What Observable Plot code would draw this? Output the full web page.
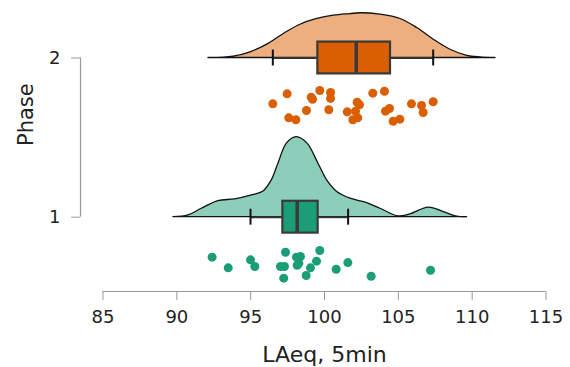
<!DOCTYPE html>
<html>
<head>
<meta charset="utf-8">
<script src="https://cdn.jsdelivr.net/npm/d3@7"></script>
<script src="https://cdn.jsdelivr.net/npm/@observablehq/plot@0.6"></script>
<style>
  html, body { margin: 0; padding: 0; background: #fff; }
  #chart svg { display: block; font-family: "DejaVu Sans", sans-serif; }
</style>
</head>
<body>
<div id="chart"></div>
<script>
// ---- data ----
const phases = [1, 2];
const phaseColors = ["#1b9e77", "#d95f02"];
const densityColors = ["#8dcebb", "#ecaf80"];

const xTicks = [85, 90, 95, 100, 105, 110, 115];
const yTicks = [1, 2];
const xLabel = "LAeq, 5min";
const yLabel = "Phase";

// raw observations (LAeq) and their vertical jitter (offset below the phase line)
const phase1Values = [92.39, 93.48, 94.99, 95.28, 97.36, 97.02, 97.29, 97.24, 98.10, 98.37,
  98.15, 98.26, 99.68, 99.46, 99.05, 98.76, 100.79, 101.58, 103.16, 107.18];
const phase1Jitter = [-0.251, -0.318, -0.268, -0.310, -0.220, -0.310, -0.310, -0.383, -0.251, -0.247,
  -0.302, -0.289, -0.209, -0.276, -0.318, -0.366, -0.327, -0.285, -0.371, -0.333];

const phase2Values = [96.50, 97.47, 99.10, 99.19, 99.68, 100.41, 100.41, 97.58, 98.06, 98.78,
  100.29, 101.54, 102.21, 102.37, 102.10, 101.92, 102.25, 103.27, 104.06, 104.13,
  104.40, 104.65, 105.10, 105.89, 106.57, 106.68, 107.36];
const phase2Jitter = [-0.288, -0.225, -0.246, -0.259, -0.204, -0.217, -0.254, -0.376, -0.388, -0.330,
  -0.325, -0.338, -0.278, -0.294, -0.334, -0.388, -0.376, -0.221, -0.209, -0.334,
  -0.317, -0.397, -0.384, -0.288, -0.298, -0.342, -0.275];

// box plot statistics per phase
const boxLow = [94.99, 96.50];
const boxQ1 = [97.18, 99.55];
const boxMedian = [98.15, 102.15];
const boxQ3 = [99.57, 104.47];
const boxHigh = [101.60, 107.36];

// half-violin density outlines (x, height in phase units)
const density1X = [89.77, 90.79, 91.69, 92.82, 93.95, 95.08, 95.87, 96.43, 96.88, 97.45, 98.12, 98.85,
  99.59, 100.18, 100.86, 101.76, 102.89, 103.79, 105.03, 105.82, 107.06, 108.08, 108.99, 109.66];
const density1H = [0, 0.011, 0.053, 0.101, 0.112, 0.137, 0.162, 0.231, 0.336, 0.462, 0.503, 0.462,
  0.336, 0.231, 0.158, 0.116, 0.089, 0.053, 0.005, 0.018, 0.060, 0.032, 0.003, 0];
const density2X = [92.14, 93.84, 94.99, 96.12, 97.24, 98.37, 99.51, 100.63, 101.76, 102.44, 103.79,
  105.15, 106.28, 107.40, 108.53, 109.66, 110.56, 111.58];
const density2H = [0, 0.008, 0.036, 0.084, 0.151, 0.209, 0.245, 0.266, 0.276, 0.281, 0.272,
  0.245, 0.188, 0.115, 0.052, 0.014, 0.004, 0];

// ---- tables built from the arrays ----
const boxes = phases.map((p, i) => ({
  phase: p, lo: boxLow[i], q1: boxQ1[i], med: boxMedian[i], q3: boxQ3[i], hi: boxHigh[i],
  color: phaseColors[i]
}));
const points = [
  ...phase1Values.map((v, i) => ({phase: 1, value: v, jitter: phase1Jitter[i], color: phaseColors[0]})),
  ...phase2Values.map((v, i) => ({phase: 2, value: v, jitter: phase2Jitter[i], color: phaseColors[1]}))
];
const dens1 = density1X.map((x, i) => ({x, h: density1H[i], phase: 1}));
const dens2 = density2X.map((x, i) => ({x, h: density2H[i], phase: 2}));

// ---- layout ----
const W = 570, H = 367;
const mLeft = 80, mBottom = 76;
const px85 = 102.5, px115 = 545.5;
const pxPerX = (px115 - px85) / 30;
const xMin = 85 - (px85 - mLeft) / pxPerX;
const py1 = 216.7, py2 = 57.5;
const pxPerY = py1 - py2;
const yAxisPx = H - mBottom;
const yLow = 1 - (yAxisPx - py1) / pxPerY;
const yHigh = 2 + py2 / pxPerY;
const boxHalf = 0.1, capHalf = 0.05;
const axisGray = "#9a9a9a";

const chart = Plot.plot({
  width: W, height: H,
  marginLeft: mLeft, marginRight: W - px115, marginTop: 0, marginBottom: mBottom,
  x: {domain: [xMin, 115], range: [mLeft, px115]},
  y: {domain: [yLow, yHigh], range: [yAxisPx, 0]},
  marks: [
    // axis lines (R-style, spanning first to last tick)
    Plot.ruleY([yLow], {x1: () => xTicks[0], x2: () => xTicks[xTicks.length - 1], stroke: axisGray, strokeWidth: 1.2}),
    Plot.ruleX([xMin], {y1: () => yTicks[0], y2: () => yTicks[yTicks.length - 1], stroke: axisGray, strokeWidth: 1.2}),
    Plot.axisX({ticks: xTicks, tickSize: 9, tickPadding: 10, fontSize: 18, label: null,
      stroke: axisGray, fill: "#222", tickFormat: d => String(d)}),
    Plot.axisY({ticks: yTicks, tickSize: 9, tickPadding: 11, fontSize: 18, label: null,
      stroke: axisGray, fill: "#222", tickFormat: d => String(d)}),
    Plot.text([xLabel], {x: () => (xTicks[0] + xTicks[xTicks.length - 1]) / 2, frameAnchor: "bottom",
      text: d => d, lineAnchor: "top", dy: 54.5, fontSize: 22, fill: "#222"}),
    Plot.text([yLabel], {frameAnchor: "left", text: d => d, rotate: -90, dx: -54, fontSize: 21, fill: "#222"}),

    // half violins
    Plot.areaY(dens1, {x: "x", y1: d => d.phase, y2: d => d.phase + d.h, curve: "catmull-rom",
      fill: densityColors[0], stroke: "#111", strokeWidth: 1.3}),
    Plot.areaY(dens2, {x: "x", y1: d => d.phase, y2: d => d.phase + d.h, curve: "catmull-rom",
      fill: densityColors[1], stroke: "#111", strokeWidth: 1.3}),

    // whiskers
    Plot.ruleY(boxes, {y: "phase", x1: "lo", x2: "q1", stroke: "#333", strokeWidth: 2}),
    Plot.ruleY(boxes, {y: "phase", x1: "q3", x2: "hi", stroke: "#333", strokeWidth: 2}),
    Plot.ruleX(boxes, {x: "lo", y1: d => d.phase - capHalf, y2: d => d.phase + capHalf, stroke: "#111", strokeWidth: 2}),
    Plot.ruleX(boxes, {x: "hi", y1: d => d.phase - capHalf, y2: d => d.phase + capHalf, stroke: "#111", strokeWidth: 2}),
    // boxes
    Plot.rect(boxes, {x1: "q1", x2: "q3", y1: d => d.phase - boxHalf, y2: d => d.phase + boxHalf,
      fill: "color", stroke: "#3a3a3a", strokeWidth: 2.2}),
    Plot.ruleX(boxes, {x: "med", y1: d => d.phase - boxHalf, y2: d => d.phase + boxHalf, stroke: "#3a3a3a", strokeWidth: 3.5}),

    // raw points
    Plot.dot(points, {x: "value", y: d => d.phase + d.jitter, r: 4.5, fill: "color", stroke: "none"})
  ]
});
document.getElementById("chart").appendChild(chart);
</script>
</body>
</html>
